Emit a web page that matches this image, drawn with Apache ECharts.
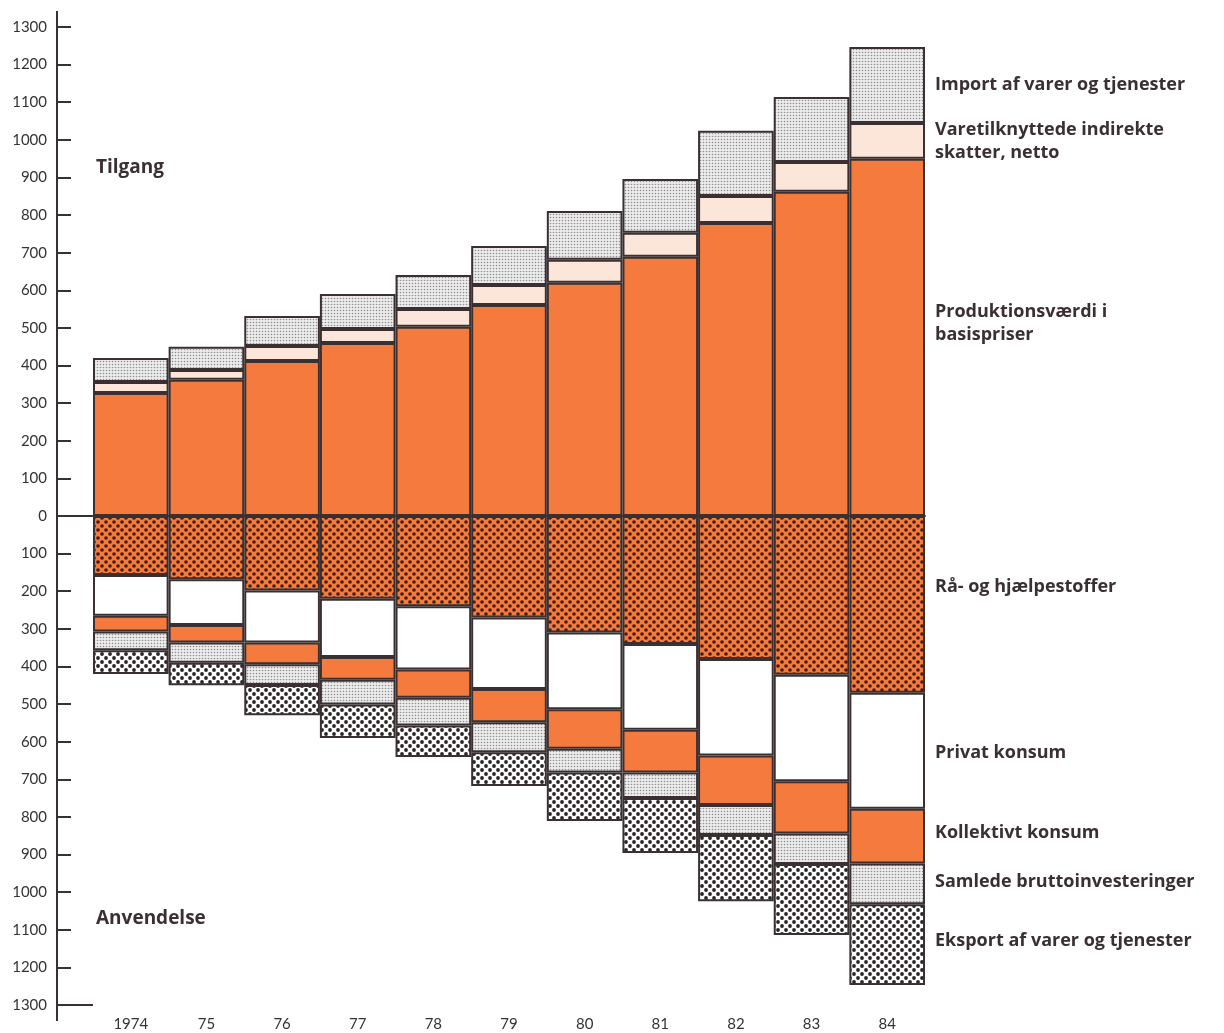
<!DOCTYPE html>
<html>
<head>
<meta charset="utf-8">
<script src="https://cdn.jsdelivr.net/npm/echarts@6/dist/echarts.min.js"></script>
<style>
  html, body { margin: 0; background: #fff; }
  #chart { width: 1224px; height: 1033px; }
</style>
</head>
<body>
<div id="chart"></div>
<script>
// år
const years = ['1974', '75', '76', '77', '78', '79', '80', '81', '82', '83', '84']

// Tilgang (mia. kr.)
const produktion = [327, 362, 412, 460, 503, 561, 620, 689, 779, 862, 950]
const indirekte = [29, 26, 40, 37, 47, 53, 61, 64, 72, 79, 95]
const importVal = [64, 62, 80, 93, 91, 104, 130, 143, 173, 173, 202]

// Anvendelse (mia. kr.), tegnes nedad
const raa = [157, 168, 198, 220, 240, 270, 310, 340, 380, 422, 470]
const privat = [108, 122, 138, 155, 168, 190, 204, 228, 257, 283, 308]
const kollektiv = [42, 46, 58, 60, 75, 88, 105, 114, 131, 139, 146]
const invest = [50, 54, 55, 66, 74, 80, 63, 68, 80, 81, 108]
const eksport = [63, 60, 81, 89, 84, 90, 129, 146, 176, 189, 215]

const ORANGE = '#f47a3e'
const INK = '#3a3032'
const FONT = 'Lato'
const LABEL_FONT = 'Open Sans'

// dot patterns
function dots(size, bg, dot, r, stagger) {
  const c = document.createElement('canvas')
  c.width = size
  c.height = size
  const ctx = c.getContext('2d')
  ctx.fillStyle = bg
  ctx.fillRect(0, 0, size, size)
  ctx.fillStyle = dot
  const pts = stagger ? [[size / 4, size / 4], [size * 3 / 4, size * 3 / 4]] : [[size / 2, size / 2]]
  pts.forEach(p => {
    ctx.beginPath()
    ctx.arc(p[0], p[1], r, 0, Math.PI * 2)
    ctx.fill()
  })
  return { image: c, repeat: 'repeat' }
}
const fineGray = dots(3, '#ececec', '#8f8f8f', 0.8, false)
const coarseOrange = dots(8, ORANGE, '#3e1f14', 1.8, true)
const coarseWhite = dots(8, '#ffffff', '#2a2626', 1.9, true)

const chart = echarts.init(document.getElementById('chart'))

function lastLabel(arr, sign, text, offset) {
  return arr.map((v, i) => {
    if (i !== arr.length - 1) return sign * v
    return {
      value: sign * v,
      label: {
        show: true,
        position: 'right',
        distance: 10,
        offset: offset || [0, 0],
        formatter: text,
        color: INK,
        fontFamily: LABEL_FONT,
        fontWeight: 'bold',
        fontSize: 18,
        lineHeight: 23,
        align: 'left'
      }
    }
  })
}

function bar(name, data, color) {
  return {
    name: name,
    type: 'bar',
    stack: 'total',
    barWidth: '100%',
    barCategoryGap: 0,
    data: data,
    itemStyle: { color: color, borderColor: INK, borderWidth: 2 },
    emphasis: { disabled: true }
  }
}

const series = [
  bar('Produktionsværdi i basispriser', lastLabel(produktion, 1, 'Produktionsværdi i\nbasispriser', [0, -14]), ORANGE),
  bar('Varetilknyttede indirekte skatter, netto', lastLabel(indirekte, 1, 'Varetilknyttede indirekte\nskatter, netto', [0, 1]), '#fce6da'),
  bar('Import af varer og tjenester', lastLabel(importVal, 1, 'Import af varer og tjenester', [0, 0]), fineGray),
  bar('Rå- og hjælpestoffer', lastLabel(raa, -1, 'Rå- og hjælpestoffer', [0, -18]), coarseOrange),
  bar('Privat konsum', lastLabel(privat, -1, 'Privat konsum', [0, 2]), '#ffffff'),
  bar('Kollektivt konsum', lastLabel(kollektiv, -1, 'Kollektivt konsum', [0, -3]), ORANGE),
  bar('Samlede bruttoinvesteringer', lastLabel(invest, -1, 'Samlede bruttoinvesteringer', [0, -2]), fineGray),
  bar('Eksport af varer og tjenester', lastLabel(eksport, -1, 'Eksport af varer og tjenester', [0, -4]), coarseWhite)
]

// nul-linjen
series[0].markLine = {
  silent: true,
  symbol: 'none',
  label: { show: false },
  lineStyle: { color: INK, width: 2, type: 'solid' },
  data: [{ yAxis: 0 }]
}

chart.setOption({
  animation: false,
  grid: { left: 93, right: 299, top: 27, bottom: 28 },
  xAxis: {
    type: 'category',
    data: years,
    axisLine: { lineStyle: { color: INK, width: 2 } },
    axisTick: { show: false },
    axisLabel: { color: '#333', fontFamily: FONT, fontSize: 15, margin: 12 }
  },
  yAxis: {
    type: 'value',
    min: -1300,
    max: 1300,
    interval: 100,
    offset: 36,
    axisLine: { show: true, lineStyle: { color: INK, width: 2 } },
    axisTick: { show: true, inside: true, length: 14, lineStyle: { color: INK, width: 2 } },
    splitLine: { show: false },
    axisLabel: {
      color: '#333',
      fontFamily: FONT,
      fontSize: 15,
      margin: 10,
      formatter: v => String(Math.abs(v))
    }
  },
  series: series
})

// forlæng akselinjer ud til y-aksen
const y0 = chart.convertToPixel({ yAxisIndex: 0 }, 0)
const yBottom = chart.convertToPixel({ yAxisIndex: 0 }, -1300)
const yTop = chart.convertToPixel({ yAxisIndex: 0 }, 1300)
const axisX = 93 - 36
const lineStyle = { stroke: INK, lineWidth: 2 }
chart.setOption({
  graphic: [
    { type: 'line', shape: { x1: axisX, y1: y0, x2: 93, y2: y0 }, style: lineStyle, silent: true },
    { type: 'line', shape: { x1: axisX, y1: yBottom, x2: 93, y2: yBottom }, style: lineStyle, silent: true },
    { type: 'line', shape: { x1: axisX, y1: yTop - 16, x2: axisX, y2: yBottom + 16 }, style: lineStyle, silent: true },
    {
      type: 'text', left: 96, top: 158,
      style: { text: 'Tilgang', fill: INK, font: 'bold 19px ' + LABEL_FONT }
    },
    {
      type: 'text', left: 96, top: 909,
      style: { text: 'Anvendelse', fill: INK, font: 'bold 19px ' + LABEL_FONT }
    }
  ]
})
</script>
</body>
</html>
